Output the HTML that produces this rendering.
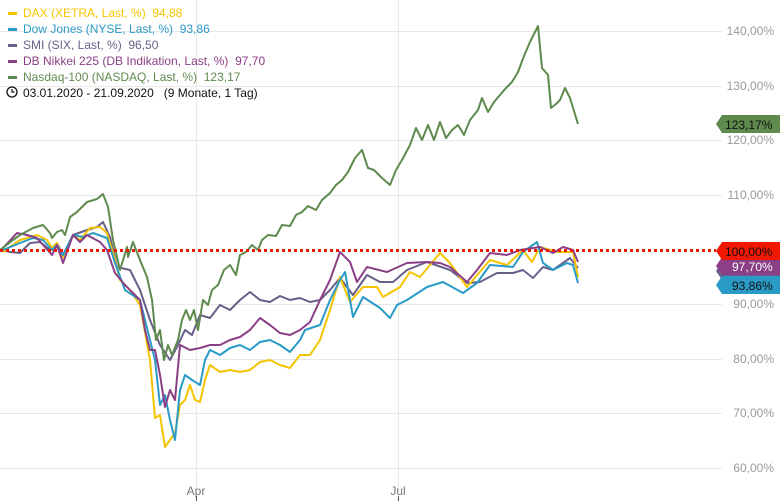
<!DOCTYPE html>
<html><head><meta charset="utf-8"><style>
body{margin:0;background:#fff;font-family:"Liberation Sans",sans-serif}
svg{display:block}
</style></head><body>
<svg width="780" height="501" viewBox="0 0 780 501" font-family="Liberation Sans, sans-serif">
<g stroke="#e8e8e8" stroke-width="1">
<line x1="0" y1="31.5" x2="722" y2="31.5"/><line x1="0" y1="86.5" x2="722" y2="86.5"/><line x1="0" y1="140.5" x2="722" y2="140.5"/><line x1="0" y1="195.5" x2="722" y2="195.5"/><line x1="0" y1="304.5" x2="722" y2="304.5"/><line x1="0" y1="359.5" x2="722" y2="359.5"/><line x1="0" y1="413.5" x2="722" y2="413.5"/><line x1="0" y1="468.5" x2="722" y2="468.5"/>
<line x1="196.5" y1="0" x2="196.5" y2="490"/><line x1="398.5" y1="0" x2="398.5" y2="490"/>
</g>
<g fill="#999" font-size="12" text-anchor="end">
<text x="774" y="35">140,00%</text><text x="774" y="90">130,00%</text><text x="774" y="144">120,00%</text><text x="774" y="199">110,00%</text><text x="774" y="308">90,00%</text><text x="774" y="363">80,00%</text><text x="774" y="417">70,00%</text><text x="774" y="472">60,00%</text>
</g>
<g fill="#777" font-size="12" text-anchor="middle"><text x="196" y="495">Apr</text><text x="398" y="495">Jul</text></g>
<g stroke="#555"><line x1="196.5" y1="496" x2="196.5" y2="501"/><line x1="398.5" y1="496" x2="398.5" y2="501"/></g>
<g fill="none" stroke-width="2" stroke-linejoin="round">
<polyline stroke="#6a5f8a" points="3,250 10,252 20,253 30,243 40,242 50,250 57,243 63,255 73,235 87,230 97,227 103,222 110,237 117,267 130,270 140,290 150,320 160,345 170,360 178,345 185,330 192,335 200,315 210,318 220,305 230,310 240,300 250,292 260,300 270,302 280,296 290,300 300,298 310,302 320,300 330,290 340,278 353,295 367,275 380,282 393,282 407,270 427,262 450,270 467,283 480,282 497,273 513,273 523,270 533,278 543,267 553,270 570,258 578,268"/>
<polyline stroke="#f5c400" points="3,252 20,240 37,235 47,240 52,248 57,243 63,257 73,235 80,240 90,228 100,227 107,233 115,260 120,280 130,290 140,305 150,360 155,418 160,415 165,447 170,440 175,433 180,405 185,400 190,385 195,400 200,402 205,380 210,365 220,372 230,370 240,372 250,370 260,362 270,360 280,365 290,368 300,355 310,355 320,340 330,310 340,277 350,302 363,287 377,287 383,297 400,287 410,272 420,277 440,253 450,263 467,287 490,260 507,265 523,250 532,262 540,247 557,252 573,252 578,277"/>
<polyline stroke="#2a9bc7" points="3,250 20,243 33,238 43,240 52,250 57,245 63,255 73,235 83,237 93,233 107,238 115,263 125,290 140,300 150,340 155,360 160,405 165,395 170,420 175,440 180,390 185,375 192,380 200,385 205,360 210,350 220,355 230,348 240,345 250,350 260,342 270,340 280,345 290,352 300,340 305,330 320,325 330,300 340,280 345,272 353,317 363,297 380,308 390,318 397,305 407,300 427,287 443,282 463,293 477,283 490,265 513,267 523,252 537,242 543,263 553,270 567,263 573,265 578,283"/>
<polyline stroke="#8b3f86" points="3,248 17,233 27,235 37,238 52,255 57,245 63,263 73,235 80,242 87,235 100,242 107,250 115,273 125,285 140,300 145,330 150,350 155,350 160,375 165,407 170,390 175,400 180,345 190,350 200,348 210,345 220,345 230,340 240,337 250,330 260,318 270,325 280,333 290,335 300,330 310,322 320,300 330,280 340,252 350,262 357,282 367,267 387,272 407,263 427,262 440,263 450,267 467,282 477,270 490,253 507,255 520,250 540,247 553,253 563,247 573,250 578,262"/>
<polyline stroke="#5f8a4e" points="0,250 13,240 20,235 33,228 43,225 50,233 52,238 57,232 62,230 65,235 70,217 77,212 87,202 97,199 103,194 108,207 113,240 120,270 127,247 128,257 133,242 140,260 147,277 152,300 156,340 160,330 164,360 168,345 172,355 178,340 182,320 186,310 190,320 194,310 198,330 203,300 208,305 212,290 218,285 224,270 230,265 236,275 240,255 246,252 252,245 258,250 262,240 268,235 276,236 282,225 290,226 296,215 302,212 308,206 316,210 322,200 330,193 336,185 342,180 348,172 355,158 362,150 368,168 374,170 382,178 390,185 396,170 402,160 410,145 416,128 422,140 428,125 434,140 440,122 446,138 452,130 458,125 464,135 470,120 478,110 482,98 488,112 494,102 500,95 506,88 512,82 518,72 524,56 530,42 538,26 542,68 548,75 551,108 556,104 560,100 565,88 570,98 578,124"/>
</g>
<line x1="0" y1="250.5" x2="716" y2="250.5" stroke="#f01800" stroke-width="3" stroke-dasharray="3,3"/>
<g font-size="12">
<path d="M716,124 L722,115 L780,115 L780,133 L722,133 Z" fill="#5f8a4e"/><text x="725" y="129" fill="#111">123,17%</text>
<path d="M716,271 L722,262 L780,262 L780,280 L722,280 Z" fill="#6a5f8a"/>
<path d="M716,266 L722,257 L780,257 L780,275 L722,275 Z" fill="#8b3f86"/><text x="732" y="271" fill="#fff">97,70%</text>
<path d="M716,251 L722,242 L780,242 L780,260 L722,260 Z" fill="#f01800"/><text x="725" y="256" fill="#111">100,00%</text>
<path d="M716,285 L722,276 L780,276 L780,294 L722,294 Z" fill="#2a9bc7"/><text x="732" y="290" fill="#111">93,86%</text>
</g>
<g font-size="12" xml:space="preserve">
<rect x="8" y="12" width="9" height="3" fill="#f5c400"/><text x="23" y="17" fill="#f5c400" style="white-space:pre">DAX (XETRA, Last, %)  94,88</text>
<rect x="8" y="28" width="9" height="3" fill="#2a9bc7"/><text x="23" y="33" fill="#2a9bc7" style="white-space:pre">Dow Jones (NYSE, Last, %)  93,86</text>
<rect x="8" y="44" width="9" height="3" fill="#6a5f8a"/><text x="23" y="49" fill="#6a5f8a" style="white-space:pre">SMI (SIX, Last, %)  96,50</text>
<rect x="8" y="60" width="9" height="3" fill="#8b3f86"/><text x="23" y="65" fill="#8b3f86" style="white-space:pre">DB Nikkei 225 (DB Indikation, Last, %)  97,70</text>
<rect x="8" y="76" width="9" height="3" fill="#5f8a4e"/><text x="23" y="81" fill="#5f8a4e" style="white-space:pre">Nasdaq-100 (NASDAQ, Last, %)  123,17</text>
<circle cx="12" cy="92" r="5" fill="none" stroke="#111" stroke-width="1.3"/><path d="M12,89 V92 H14.5" fill="none" stroke="#111" stroke-width="1.2"/>
<text x="23" y="97" fill="#111" style="white-space:pre">03.01.2020 - 21.09.2020   (9 Monate, 1 Tag)</text>
</g>
</svg>
</body></html>
